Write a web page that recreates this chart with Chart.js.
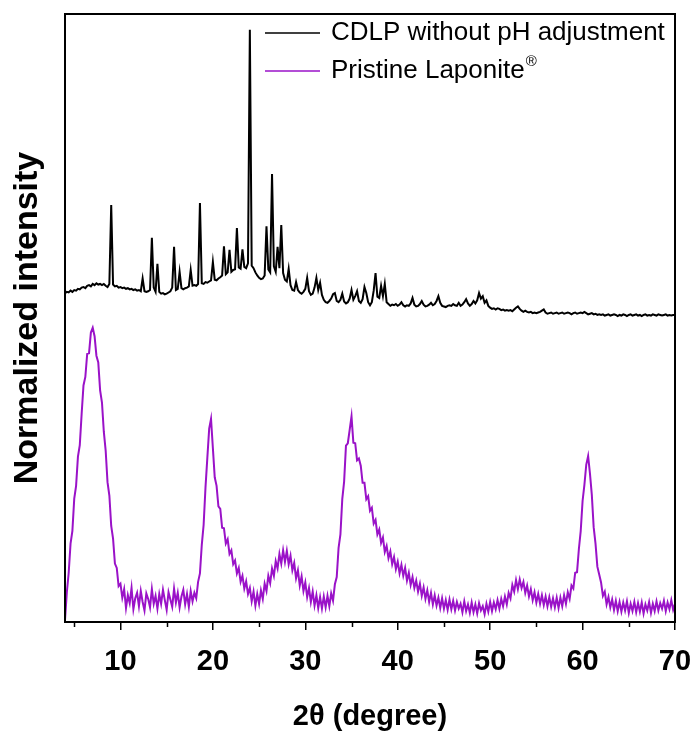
<!DOCTYPE html>
<html>
<head>
<meta charset="utf-8">
<script src="https://cdn.jsdelivr.net/npm/chart.js@4"></script>
<style>
  html, body { margin: 0; padding: 0; background: #fff; }
  #wrap { width: 697px; height: 740px; }
</style>
</head>
<body>
<div id="wrap"><canvas id="xrdChart" width="697" height="740"></canvas></div>
<script>
// 2θ scan: start / step of the measurement (deg)
const scanStart = 4.0;
const scanStep = 0.2;

// x axis ticks
const majorTicks = [10, 20, 30, 40, 50, 60, 70];
const minorTicks = [5, 15, 25, 35, 45, 55, 65];

// CDLP without pH adjustment (offset trace, normalized)
const cdlpIntensity = [
  54.1, 54.3, 54.2, 54.5, 54.3, 54.6, 54.5, 54.8, 54.7, 55.0,
  55.1, 54.9, 55.3, 55.4, 55.2, 55.6, 55.4, 55.7, 55.5, 55.6,
  55.4, 55.6, 55.3, 55.1, 55.6, 68.6, 55.5, 55.2, 55.3, 55.0,
  55.1, 54.9, 55.0, 54.8, 54.9, 54.7, 54.8, 54.6, 54.7, 54.5,
  54.6, 54.4, 56.5, 54.4, 54.3, 54.4, 54.6, 63.2, 55.0, 54.3,
  58.9, 54.3, 54.0, 54.1, 53.9, 54.0, 54.2, 54.4, 55.0, 61.7,
  54.6, 54.8, 57.6, 54.9, 54.7, 54.9, 55.0, 55.2, 57.9, 55.3,
  55.4, 55.3, 55.6, 68.9, 55.7, 55.6, 55.9, 55.8, 56.0, 56.2,
  59.2, 56.3, 56.2, 56.5, 56.7, 57.0, 61.8, 57.2, 57.5, 61.2,
  57.6, 57.9, 58.0, 64.8, 58.3, 58.1, 61.3, 58.4, 58.2, 59.0,
  97.4, 58.6, 58.2, 57.5, 57.0, 56.6, 56.4, 56.5, 57.0, 65.1,
  58.0, 57.5, 73.7, 58.5, 57.6, 61.7, 58.2, 65.3, 57.4, 56.3,
  56.0, 58.1, 55.4, 54.6, 54.5, 55.9, 54.6, 54.2, 54.0, 54.3,
  54.8, 56.6, 54.4, 53.8, 54.0, 55.0, 56.6, 54.6, 55.8, 53.8,
  53.0, 52.6, 52.5, 52.8, 53.2, 53.9, 54.1, 52.8, 52.6, 53.0,
  54.0, 52.7, 52.4, 52.6, 53.2, 54.6, 53.0, 53.6, 54.4, 52.8,
  52.5, 53.1, 55.1, 54.1, 52.6, 52.1, 52.6, 54.5, 57.4, 53.5,
  53.3, 55.3, 53.6, 55.6, 52.6, 52.3, 52.0, 52.2, 52.1, 52.3,
  52.0, 52.2, 52.6, 52.1, 51.9, 52.1, 52.0, 52.4, 53.3, 52.2,
  51.9, 52.0, 52.3, 52.8, 52.2, 51.9, 52.0, 52.2, 52.5, 52.1,
  52.3, 52.8, 53.6, 52.5, 52.0, 51.9, 51.8, 52.0, 52.1, 52.0,
  52.3, 52.1, 52.0, 52.5, 52.0, 52.2, 52.6, 53.1, 52.4, 52.0,
  52.3, 52.8, 52.4, 52.9, 54.1, 53.2, 53.6, 52.5, 52.9, 52.0,
  51.7, 51.5, 51.6, 51.4, 51.6, 51.5, 51.3, 51.4, 51.2, 51.3,
  51.2, 51.3, 51.1, 51.4, 51.7, 51.9, 51.5, 51.2, 51.0, 51.2,
  51.0, 50.9, 51.0, 50.8, 50.9, 50.8, 50.9, 51.0, 51.2, 51.4,
  50.9, 50.7, 50.8, 50.9, 50.7, 50.8, 50.9, 50.7, 50.8, 50.9,
  50.7, 50.8, 50.9, 50.8, 50.6, 50.8, 50.9, 50.7, 50.8, 50.9,
  50.8, 51.0, 50.8, 50.6, 50.7, 50.8, 50.6, 50.7, 50.5, 50.6,
  50.5, 50.6, 50.4, 50.5, 50.6, 50.4, 50.5, 50.6, 50.5, 50.3,
  50.5, 50.4, 50.6, 50.5, 50.3, 50.5, 50.6, 50.4, 50.5, 50.6,
  50.4, 50.5, 50.3, 50.5, 50.6, 50.4, 50.5, 50.4, 50.6, 50.5,
  50.4, 50.6, 50.5, 50.4, 50.5, 50.6, 50.4, 50.5, 50.4, 50.5,
  50.5
];

// Pristine Laponite (normalized)
const laponiteIntensity = [
  0.3, 4.9, 8.1, 12.9, 15.0, 20.3, 22.4, 27.2, 29.1, 34.2,
  38.9, 40.3, 44.1, 44.2, 47.6, 48.4, 47.0, 43.8, 42.7, 38.1,
  36.1, 31.3, 28.2, 23.0, 20.8, 15.8, 13.7, 9.6, 8.9, 5.9,
  6.3, 4.0, 5.4, 2.3, 4.4, 3.1, 5.6, 2.1, 3.9, 4.8,
  2.6, 5.1, 3.3, 1.9, 4.7, 3.8, 2.4, 5.4, 3.0, 4.3,
  2.2, 4.6, 3.0, 5.3, 3.6, 2.0, 4.9, 3.7, 2.5, 5.5,
  3.2, 4.8, 2.4, 4.2, 5.3, 2.9, 4.6, 2.5, 5.1, 3.4,
  4.8, 3.9, 6.6, 8.0, 12.7, 16.0, 22.1, 27.0, 31.8, 33.4,
  28.6, 23.8, 22.4, 19.0, 18.6, 15.5, 15.4, 12.9, 13.6, 11.2,
  11.8, 9.5, 10.1, 8.0, 8.9, 6.6, 7.6, 5.5, 6.7, 4.6,
  5.6, 3.4, 5.0, 2.7, 4.6, 3.0, 5.2, 3.8, 6.3, 5.1,
  7.6, 6.4, 8.8, 7.6, 10.0, 8.8, 11.2, 9.6, 11.8, 9.9,
  11.7, 9.5, 10.9, 8.5, 9.7, 7.2, 8.5, 6.0, 7.5, 5.1,
  6.5, 4.1, 5.6, 3.3, 5.0, 2.7, 4.4, 2.3, 4.1, 2.2,
  4.2, 2.4, 4.3, 2.6, 4.7, 3.5, 6.2, 7.4, 12.2, 14.4,
  20.2, 23.1, 29.0, 29.4, 31.6, 33.8, 29.5, 29.4, 26.6, 26.9,
  25.7, 22.9, 22.9, 20.2, 20.7, 18.3, 18.8, 16.2, 16.8, 14.4,
  15.2, 13.0, 13.9, 11.5, 12.5, 10.5, 11.6, 9.5, 10.7, 8.7,
  9.9, 8.0, 9.4, 7.6, 8.9, 6.8, 8.1, 6.1, 7.4, 5.6,
  6.8, 5.0, 6.3, 4.3, 5.7, 3.8, 5.2, 3.3, 4.8, 2.9,
  4.4, 2.7, 4.0, 2.3, 3.9, 2.2, 3.6, 2.0, 3.7, 2.1,
  3.5, 1.9, 3.3, 2.2, 3.0, 1.6, 3.4, 1.8, 2.9, 1.5,
  3.2, 1.6, 2.9, 1.4, 3.1, 1.9, 2.6, 1.3, 3.0, 1.7,
  3.3, 1.8, 3.2, 2.1, 3.6, 2.2, 3.8, 2.6, 4.2, 2.9,
  4.8, 3.9, 6.1, 5.0, 6.9, 5.4, 7.0, 5.6, 6.6, 4.8,
  6.0, 4.2, 5.4, 3.6, 4.9, 3.2, 4.6, 3.0, 4.4, 2.8,
  4.2, 2.6, 4.1, 2.5, 3.9, 2.4, 4.0, 2.3, 4.0, 2.6,
  4.4, 3.0, 4.9, 3.8, 6.0, 5.5, 8.1, 8.2, 12.0, 15.0,
  19.9, 22.6, 25.9, 27.3, 24.4, 20.9, 15.6, 12.9, 9.1, 7.8,
  6.5, 4.3, 5.0, 2.9, 4.1, 2.4, 3.7, 2.0, 3.5, 1.8,
  3.3, 1.7, 3.2, 1.9, 3.4, 1.5, 3.0, 1.8, 3.3, 1.6,
  3.1, 1.7, 3.2, 1.4, 2.9, 1.9, 3.3, 1.5, 3.0, 1.8,
  3.4, 1.9, 3.1, 2.2, 3.5, 1.8, 3.2, 2.1, 3.6, 2.0,
  3.0
];

const seriesNames = ['CDLP without pH adjustment', 'Pristine Laponite'];
const seriesColors = ['#000000', '#9a12c8'];

const toPoints = arr => arr.map((v, i) => ({ x: +(scanStart + i * scanStep).toFixed(1), y: v }));

const FONT = "Arial, 'Liberation Sans', sans-serif";

// frame round the plot + short minor ticks
const framePlugin = {
  id: 'frame',
  afterDraw(chart) {
    const { ctx, chartArea: a, scales } = chart;
    ctx.save();
    ctx.strokeStyle = '#000';
    ctx.lineWidth = 2;
    ctx.strokeRect(a.left, a.top, a.right - a.left, a.bottom - a.top);
    ctx.lineWidth = 1.5;
    minorTicks.forEach(v => {
      const px = Math.round(scales.x.getPixelForValue(v)) + 0.5;
      ctx.beginPath();
      ctx.moveTo(px, a.bottom);
      ctx.lineTo(px, a.bottom + 5);
      ctx.stroke();
    });
    ctx.restore();
  }
};

// legend inside the plot, top right
const legendPlugin = {
  id: 'insideLegend',
  afterDraw(chart) {
    const { ctx, chartArea: a } = chart;
    const x0 = a.left + 200;
    const rows = [a.top + 19, a.top + 57];
    ctx.save();
    ctx.textBaseline = 'middle';
    rows.forEach((y, i) => {
      ctx.strokeStyle = seriesColors[i];
      ctx.lineWidth = 1.5;
      ctx.beginPath();
      ctx.moveTo(x0, y);
      ctx.lineTo(x0 + 55, y);
      ctx.stroke();
      ctx.fillStyle = '#000';
      ctx.font = '26px ' + FONT;
      ctx.fillText(seriesNames[i], x0 + 66, y);
      if (i === 1) {
        const w = ctx.measureText(seriesNames[i]).width;
        ctx.font = '15px ' + FONT;
        ctx.fillText('®', x0 + 67 + w, y - 9);
      }
    });
    ctx.restore();
  }
};

const ctx = document.getElementById('xrdChart').getContext('2d');
new Chart(ctx, {
  type: 'line',
  data: {
    datasets: [
      {
        label: seriesNames[0],
        data: toPoints(cdlpIntensity),
        borderColor: seriesColors[0],
        borderWidth: 2,
        pointRadius: 0,
        tension: 0
      },
      {
        label: seriesNames[1],
        data: toPoints(laponiteIntensity),
        borderColor: seriesColors[1],
        borderWidth: 2,
        pointRadius: 0,
        tension: 0
      }
    ]
  },
  options: {
    responsive: false,
    animation: false,
    layout: { padding: { top: 14, right: 22, left: 0, bottom: 0 } },
    plugins: {
      legend: { display: false },
      tooltip: { enabled: false }
    },
    scales: {
      x: {
        type: 'linear',
        min: 4,
        max: 70,
        afterBuildTicks: scale => { scale.ticks = majorTicks.map(v => ({ value: v })); },
        afterFit: scale => {
          scale.height = 118;
          scale.paddingLeft = 0;
          scale.paddingRight = 0;
        },
        grid: { drawOnChartArea: false, drawTicks: true, tickLength: 8, color: '#000', lineWidth: 1.5 },
        border: { display: true, color: '#000', width: 2 },
        ticks: {
          color: '#000',
          padding: 15,
          maxRotation: 0,
          font: { family: FONT, size: 29, weight: 'bold' }
        },
        title: {
          display: true,
          text: '2θ (degree)',
          color: '#000',
          padding: { top: 0, bottom: 6 },
          font: { family: FONT, size: 29, weight: 'bold' }
        }
      },
      y: {
        min: 0,
        max: 100,
        afterFit: scale => { scale.width = 65; },
        grid: { display: false },
        border: { display: true, color: '#000', width: 2 },
        ticks: { display: false },
        title: {
          display: true,
          text: 'Normalized intensity',
          color: '#000',
          padding: { top: 7, bottom: 0 },
          font: { family: FONT, size: 34, weight: 'bold' }
        }
      }
    }
  },
  plugins: [framePlugin, legendPlugin]
});
</script>
</body>
</html>
